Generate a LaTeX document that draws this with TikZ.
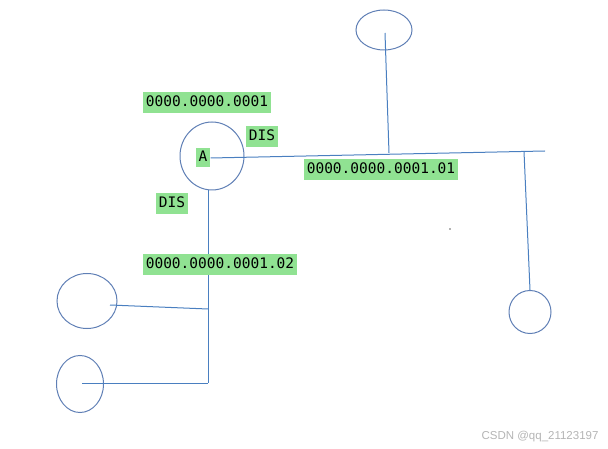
\documentclass[tikz,border=0pt]{standalone}
\usepackage{fontspec}
\setmonofont{DejaVu Sans Mono}
\setsansfont{Liberation Sans}
\usetikzlibrary{
arrows.meta,
positioning,
shapes.geometric,
calc
}
\definecolor{netblue}{HTML}{4A7FC0}
\definecolor{netring}{HTML}{5F7FB5}
\definecolor{taggreen}{HTML}{90E292}
\definecolor{markgray}{HTML}{B4B4B4}

\begin{document}
\begin{tikzpicture}[
  x=1pt, y=-1pt,
  host/.style={ellipse, draw=netring, line width=1pt, inner sep=0pt},
  wire/.style={netblue, line width=1pt},
  tag/.style={fill=taggreen, text=black, font=\ttfamily\fontsize{14.5}{14.5}\selectfont,
    inner xsep=3pt, inner ysep=4pt, text height=10.5pt, text depth=2.5pt},
  watermark/.style={font=\sffamily\fontsize{11.5}{11.5}\selectfont, text=markgray}
]
\useasboundingbox (0,0) rectangle (608,449);

% Hosts
\node[host, minimum width=56pt, minimum height=40pt] (hostTop) at (384,30) {};
\node[host, minimum width=64pt, minimum height=68pt] (hostA) at (212,156) {};
\node[host, minimum width=42pt, minimum height=43pt] (hostR) at (530,312) {};
\node[host, minimum width=60pt, minimum height=55pt] (hostL1) at (87,301) {};
\node[host, minimum width=47pt, minimum height=57pt] (hostL2) at (80,384) {};

% Junctions
\coordinate (busEnd) at (545,151);
\coordinate (jTop) at (389,153);
\coordinate (jR) at (524,151.5);
\coordinate (jL1) at (208,309);
\coordinate (jL2) at (208,383);
\coordinate (tL1) at (110,305);
\coordinate (tL2) at (82,383);
\coordinate (tR) at (530,290);
\coordinate (tTop) at (385,33);

% Router label
\node[tag, inner ysep=3pt] (labA) at (203,158) {A};

% Ethernet lines
\draw[wire] (labA.east) -- (busEnd);
\draw[wire] (tTop) -- (jTop);
\draw[wire] (jR) -- (tR);
\draw[wire] (hostA.south -| jL2) -- (jL2);
\draw[wire] (tL1) -- (jL1);
\draw[wire] (tL2) -- (jL2);

% Addresses
\node[tag] (sysId) at (207,103) {0000.0000.0001};
\node[tag] (disTop) at (262,137) {DIS};
\node[tag] (pnOne) at (381,170) {0000.0000.0001.01};
\node[tag] (disLeft) at (172,204) {DIS};
\node[tag] (pnTwo) at (220,265) {0000.0000.0001.02};

% Speck
\fill[black!60] (450,229) circle (0.8pt);

\node[watermark] (wmark) at (540,437) {CSDN @qq\_21123197};

\end{tikzpicture}
\end{document}
